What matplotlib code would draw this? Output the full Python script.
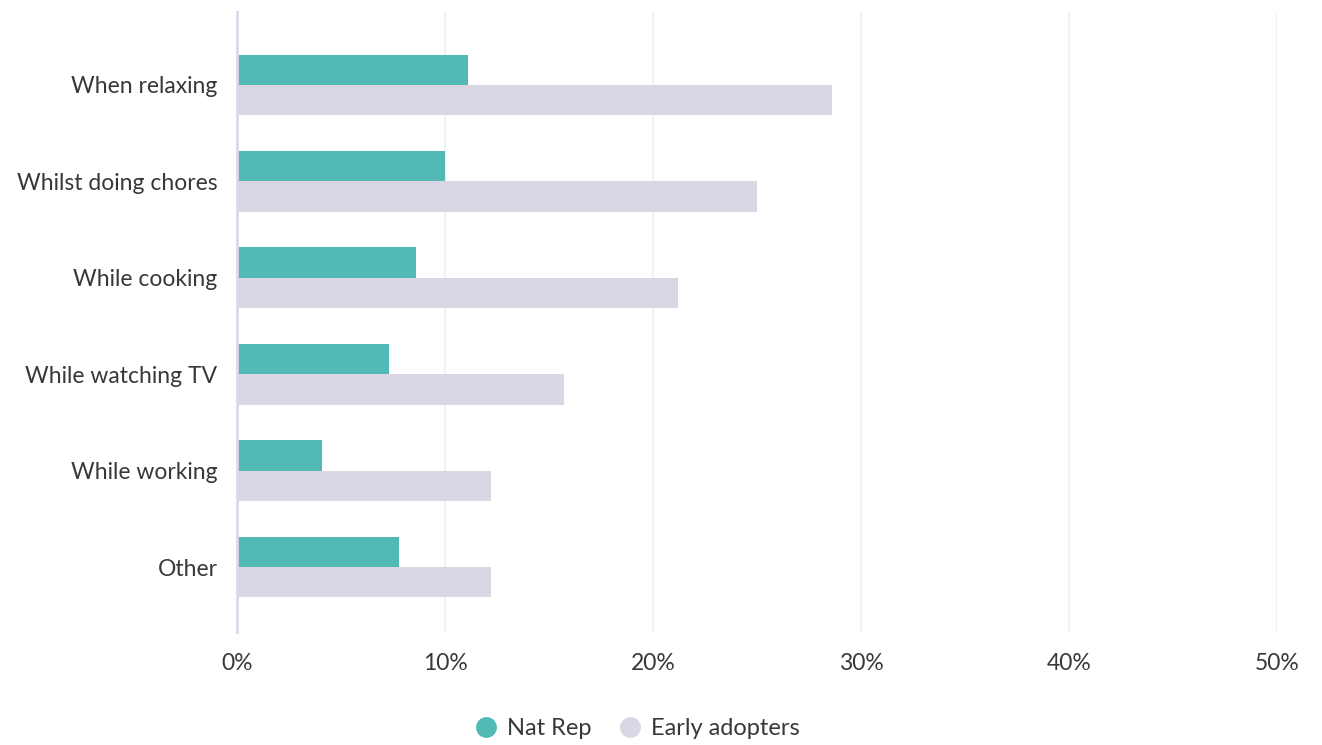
import matplotlib.pyplot as plt
import numpy as np
from matplotlib.lines import Line2D
from matplotlib.ticker import FuncFormatter

# ----------------------------- data ------------------------------------------
categories = ['When relaxing', 'Whilst doing chores', 'While cooking',
              'While watching TV', 'While working', 'Other']
nat_rep = [11.1, 10.0, 8.6, 7.3, 4.1, 7.8]
early_adopters = [28.6, 25.0, 21.2, 15.7, 12.2, 12.2]
x_ticks = [0, 10, 20, 30, 40, 50]

# ----------------------------- style -----------------------------------------
teal = '#52bab5'
lavender = '#dad6e4'
text_color = '#383838'
grid_color = '#efeff2'
font_size = 16.5

plt.rcParams['font.family'] = ['Lato', 'DejaVu Sans']

fig = plt.figure(figsize=(13.22, 7.45), dpi=100)
ax = fig.add_axes([0.1793, 0.1517, 0.7868, 0.8322])

y = np.arange(len(categories))
bar_h = 0.316

ax.barh(y - bar_h / 2, nat_rep, height=bar_h, color=teal, zorder=3)
ax.barh(y + bar_h / 2, early_adopters, height=bar_h, color=lavender, zorder=3)

ax.set_xlim(0, 50)
ax.set_ylim(5.674, -0.757)

ax.set_yticks(y)
ax.set_yticklabels(categories)
ax.set_xticks(x_ticks)
ax.xaxis.set_major_formatter(FuncFormatter(lambda v, p: f"{v:.0f}%"))

ax.grid(axis='x', color=grid_color, linewidth=1.2, zorder=0)
ax.grid(axis='y', visible=False)

for side in ['top', 'right', 'bottom']:
    ax.spines[side].set_visible(False)
ax.spines['left'].set_color('#dcd8e8')
ax.spines['left'].set_linewidth(2)
ax.spines['left'].set_zorder(4)

ax.tick_params(axis='x', length=0, pad=15, labelsize=font_size, colors=text_color)
ax.tick_params(axis='y', length=0, pad=14, labelsize=font_size, colors=text_color)

handles = [
    Line2D([], [], marker='o', linestyle='none', markersize=14,
           markerfacecolor=teal, markeredgecolor=teal, label='Nat Rep'),
    Line2D([], [], marker='o', linestyle='none', markersize=14,
           markerfacecolor=lavender, markeredgecolor=lavender, label='Early adopters'),
]
leg = fig.legend(handles=handles, loc='center', bbox_to_anchor=(0.481, 0.022),
                 ncol=2, frameon=False, fontsize=font_size + 0.5, handletextpad=0.3,
                 columnspacing=1.0, handlelength=1.2)
for t in leg.get_texts():
    t.set_color(text_color)

fig.savefig('out.png', dpi=100)
